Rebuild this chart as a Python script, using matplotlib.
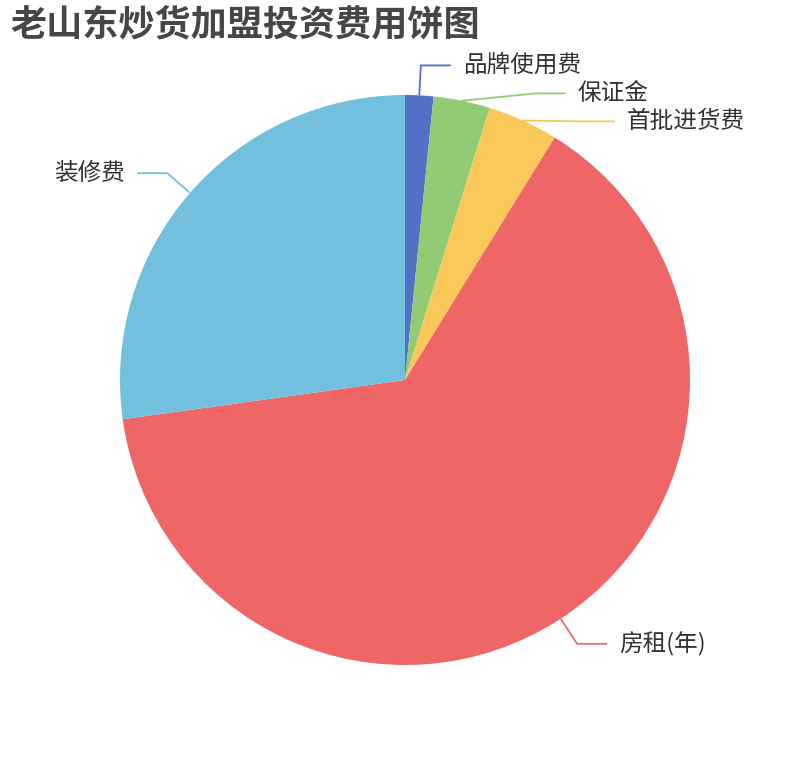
import numpy as np
import matplotlib
matplotlib.use("Agg")
import matplotlib.pyplot as plt

plt.rcParams['font.family'] = ['Noto Sans CJK SC', 'DejaVu Sans']

title = "老山东炒货加盟投资费用饼图"
categories = ["品牌使用费", "保证金", "首批进货费", "房租(年)", "装修费"]
values = [2, 4, 5, 80, 34]
colors = ["#5470c6", "#91cc75", "#fac858", "#ee6666", "#73c0de"]

W, H = 810, 760
fig = plt.figure(figsize=(W / 100, H / 100), dpi=100)
ax = fig.add_axes([0, 0, 1, 1])

cx, cy, R = 405, 380, 285
wedges, _ = ax.pie(values, colors=colors, startangle=90, counterclock=False,
                   radius=R, center=(cx, cy), wedgeprops=dict(linewidth=0))
ax.set_xlim(0, W)
ax.set_ylim(0, H)
ax.set_aspect('equal')
ax.axis('off')

len1, len2, gap, min_sep = 30, 30, 12, 28
items = []
for w, name, col in zip(wedges, categories, colors):
    mid = np.deg2rad((w.theta1 + w.theta2) / 2)
    sx, sy = cx + R * np.cos(mid), cy + R * np.sin(mid)
    ex, ey = cx + (R + len1) * np.cos(mid), cy + (R + len1) * np.sin(mid)
    side = 1 if np.cos(mid) >= 0 else -1
    items.append(dict(name=name, col=col, sx=sx, sy=sy, ex=ex, ey=ey, side=side))

# simple overlap avoidance per side (top to bottom)
for side in (1, -1):
    grp = sorted([it for it in items if it['side'] == side], key=lambda d: -d['ey'])
    for i in range(1, len(grp)):
        if grp[i - 1]['ey'] - grp[i]['ey'] < min_sep:
            grp[i]['ey'] = grp[i - 1]['ey'] - min_sep
            dy = grp[i]['ey'] - cy
            grp[i]['ex'] = cx + side * np.sqrt(max((R + len1) ** 2 - dy ** 2, 0))

for it in items:
    hx = it['ex'] + it['side'] * len2
    ax.plot([it['sx'], it['ex'], hx], [it['sy'], it['ey'], it['ey']],
            color=it['col'], lw=1.3, solid_capstyle='butt')
    ax.text(hx + it['side'] * gap, it['ey'], it['name'], fontsize=17,
            color='#333333', ha='left' if it['side'] > 0 else 'right', va='center')

fig.text(10 / W, 1 - 25 / H, title, fontsize=26, fontweight='bold',
         color='#464646', ha='left', va='center')

fig.savefig("out.png", dpi=100)
